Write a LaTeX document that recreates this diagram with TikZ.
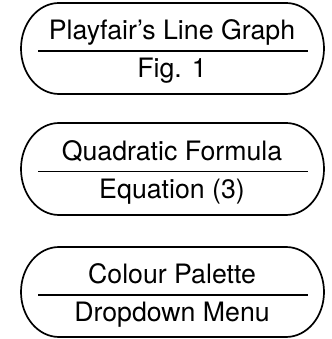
\documentclass[tikz,border=0pt]{standalone}
\usepackage{fontspec}
\setmainfont{TeX Gyre Heros}
\begin{document}
\begin{tikzpicture}[x=1pt,y=1pt,
  outline/.style={draw=black,line width=1.7pt},
  divider/.style={draw=black,line width=1.5pt},
  label/.style={inner sep=0pt,anchor=base,font=\fontsize{26.7}{30}\selectfont}]
\useasboundingbox (0,0) rectangle (331,339);
% one card: #1 name, #2 top edge, #3 bottom edge, #4 divider height, #5 title, #6 subtitle
\newcommand\capsulecard[6]{%
  \path[outline] (59,#2) -- (286,#2)
    arc[start angle=90,end angle=-90,x radius=38,y radius={(#2-#3)/2}]
    -- (59,#3)
    arc[start angle=270,end angle=90,x radius=38,y radius={(#2-#3)/2}] -- cycle;
  \coordinate (#1-l) at (38,#4);
  \coordinate (#1-r) at (308,#4);
  \draw[divider] (#1-l) -- (#1-r);
  \node[label] (#1-top) at (172,#4+11) {#5};
  \node[label] (#1-bot) at (172,#4-27) {#6};
}
\capsulecard{fig}{336}{245}{288}{Playfair’s Line Graph}{Fig. 1}
\capsulecard{eq}{216}{124}{167.5}{Quadratic Formula}{Equation (3)}
\capsulecard{menu}{92}{2}{44}{Colour Palette}{Dropdown Menu}
\end{tikzpicture}
\end{document}
